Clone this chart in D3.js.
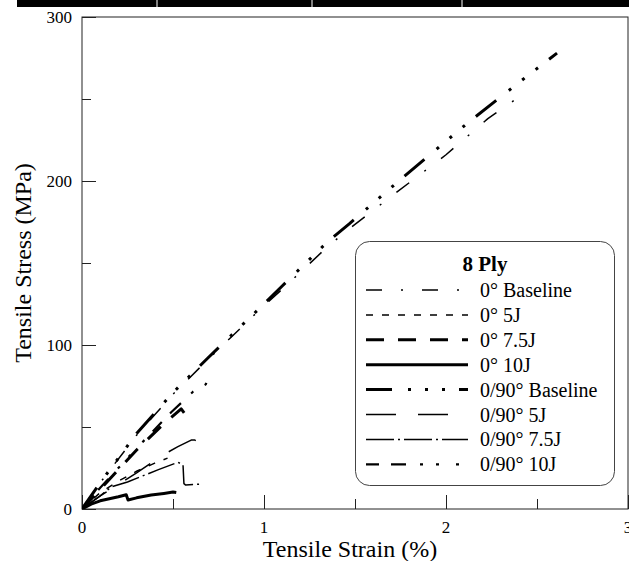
<!DOCTYPE html>
<html>
<head>
<meta charset="utf-8">
<script src="https://cdn.jsdelivr.net/npm/d3@7"></script>
<style>
  body { margin: 0; background: #fff; }
  svg { display: block; font-family: "Liberation Serif", "Times New Roman", serif; }
</style>
</head>
<body>
<svg id="chart" width="629" height="561"></svg>
<script>
// Kurven: Dehnung (%) / Spannung (MPa)
const names = ["0° Baseline", "0° 5J", "0° 7.5J", "0° 10J",
               "0/90° Baseline", "0/90° 5J", "0/90° 7.5J", "0/90° 10J"];

const strain0Base = [0, 0.1, 0.3, 0.5, 0.7, 1.0, 1.1, 1.35, 1.47, 1.692, 2.0, 2.23, 2.456];
const stress0Base = [0, 16, 45, 70, 92, 124, 134, 160, 171, 190, 216, 238, 255.5];

const strain05J = [0, 0.1, 0.2, 0.3, 0.4, 0.47];
const stress05J = [0, 10, 17, 23, 28, 31];

const strain075J = [0, 0.1, 0.3, 0.45, 0.545, 0.565, 0.575];
const stress075J = [0, 12, 36, 52, 61, 58, 55];

const strain010J = [0, 0.05, 0.1, 0.2, 0.243, 0.253, 0.3, 0.38, 0.45, 0.5, 0.518];
const stress010J = [0, 3, 5, 7.5, 8.7, 5.5, 6.8, 8.5, 9.5, 10.3, 10];

const strain90Base = [0, 0.1, 0.3, 0.5, 0.7, 1.0, 1.1, 1.35, 1.47, 1.73, 2.115, 2.4, 2.61];
const stress90Base = [0, 16, 46, 71, 93, 125, 136, 163, 174, 199, 235, 260, 278];

const strain905J = [0, 0.1, 0.2, 0.3, 0.445, 0.527, 0.6, 0.62, 0.64];
const stress905J = [0, 8, 15, 22, 33, 38, 42, 42, 41];

const strain9075J = [0, 0.1, 0.16, 0.25, 0.42, 0.527, 0.555, 0.56, 0.57, 0.65];
const stress9075J = [0, 8, 13.4, 16.5, 24, 28.5, 27, 15.5, 14.6, 15.2];

const strain9010J = [0, 0.1, 0.3, 0.49, 0.61, 0.68, 0.685, 0.72];
const stress9010J = [0, 13, 37, 59, 71.5, 76, 77.5, 78.7];

const xTicks = [0, 1, 2, 3];
const yTicks = [0, 100, 200, 300];

const series = [
  { name: names[0], x: strain0Base,  y: stress0Base,  dash: "16,19,2,19", w: 1.5 },
  { name: names[1], x: strain05J,    y: stress05J,    dash: "7,9",        w: 1.5 },
  { name: names[2], x: strain075J,   y: stress075J,   dash: "18,14",      w: 3 },
  { name: names[3], x: strain010J,   y: stress010J,   dash: null,         w: 3 },
  { name: names[4], x: strain90Base, y: stress90Base, dash: "26,16,3,14,3,14,3,14", w: 3 },
  { name: names[5], x: strain905J,   y: stress905J,   dash: "30,22",      w: 1.5 },
  { name: names[6], x: strain9075J,  y: stress9075J,  dash: "28,4,2,4",   w: 1.5 },
  { name: names[7], x: strain9010J,  y: stress9010J,  dash: "13,12,15,14,3,13,3,17,3,12", w: 2.2 }
];

const svg = d3.select("#chart");

// schwarzer Balken oben
svg.append("rect").attr("x", 17).attr("y", 0).attr("width", 612).attr("height", 7).attr("fill", "#000");
[157, 312, 462].forEach(px => {
  svg.append("line").attr("x1", px).attr("x2", px).attr("y1", 0).attr("y2", 7)
    .attr("stroke", "#fff").attr("stroke-width", 1);
});

const pLeft = 82, pRight = 628, pTop = 17, pBottom = 509;

const x = d3.scaleLinear().domain([0, 3]).range([pLeft, pRight]);
const y = d3.scaleLinear().domain([0, 300]).range([pBottom, pTop]);

// Rahmen
svg.append("rect")
  .attr("x", pLeft).attr("y", pTop)
  .attr("width", pRight - pLeft).attr("height", pBottom - pTop)
  .attr("fill", "none").attr("stroke", "#222").attr("stroke-width", 1);

// Achsen (Ticks nach innen)
const xAxis = svg.append("g")
  .attr("transform", `translate(0,${pBottom})`)
  .call(d3.axisTop(x).tickValues(d3.range(0, 3.01, 0.5)).tickFormat(""));
xAxis.selectAll(".tick line").attr("y2", d => d % 1 === 0 ? -14 : -10).attr("stroke", "#222");
xAxis.select(".domain").remove();

const yAxis = svg.append("g")
  .attr("transform", `translate(${pLeft},0)`)
  .call(d3.axisRight(y).tickValues(d3.range(0, 301, 50)).tickFormat(""));
yAxis.selectAll(".tick line").attr("x2", d => d % 100 === 0 ? 14 : 9).attr("stroke", "#222");
yAxis.select(".domain").remove();

svg.selectAll(".xlab").data(xTicks).join("text")
  .attr("x", d => x(d)).attr("y", 533)
  .attr("text-anchor", "middle").attr("font-size", "17px").text(d => d);

svg.selectAll(".ylab").data(yTicks).join("text")
  .attr("x", 72).attr("y", d => y(d) + 6)
  .attr("text-anchor", "end").attr("font-size", "17px").text(d => d);

svg.append("text")
  .attr("x", 350).attr("y", 557)
  .attr("text-anchor", "middle").attr("font-size", "24px")
  .text("Tensile Strain (%)");

svg.append("text")
  .attr("transform", "rotate(-90)")
  .attr("x", -263).attr("y", 31)
  .attr("text-anchor", "middle").attr("font-size", "24px")
  .text("Tensile Stress (MPa)");

// Kurven
svg.append("clipPath").attr("id", "clip")
  .append("rect").attr("x", pLeft).attr("y", pTop).attr("width", pRight - pLeft).attr("height", pBottom - pTop);

const line = d3.line().x(d => x(d[0])).y(d => y(d[1]));

svg.append("g").attr("clip-path", "url(#clip)")
  .selectAll("path").data(series).join("path")
  .attr("d", s => line(s.x.map((v, i) => [v, s.y[i]])))
  .attr("fill", "none").attr("stroke", "#000")
  .attr("stroke-width", s => s.w)
  .attr("stroke-dasharray", s => s.dash)
  .attr("stroke-linejoin", "round");

// Legende
const lg = svg.append("g");
lg.append("rect")
  .attr("x", 355.5).attr("y", 241.5).attr("width", 259).attr("height", 244)
  .attr("rx", 14).attr("fill", "#fff").attr("stroke", "#444").attr("stroke-width", 1);
lg.append("text")
  .attr("x", 485).attr("y", 271)
  .attr("text-anchor", "middle").attr("font-size", "21px").attr("font-weight", "bold")
  .text("8 Ply");

const row = lg.selectAll(".row").data(series).join("g")
  .attr("transform", (d, i) => `translate(0,${290 + i * 24.9})`);
row.append("line")
  .attr("x1", 366).attr("x2", 468).attr("y1", 0).attr("y2", 0)
  .attr("stroke", "#000").attr("stroke-width", s => s.w)
  .attr("stroke-dasharray", s => s.dash);
row.append("text")
  .attr("x", 480).attr("y", 7)
  .attr("font-size", "20px").text(s => s.name);
</script>
</body>
</html>
